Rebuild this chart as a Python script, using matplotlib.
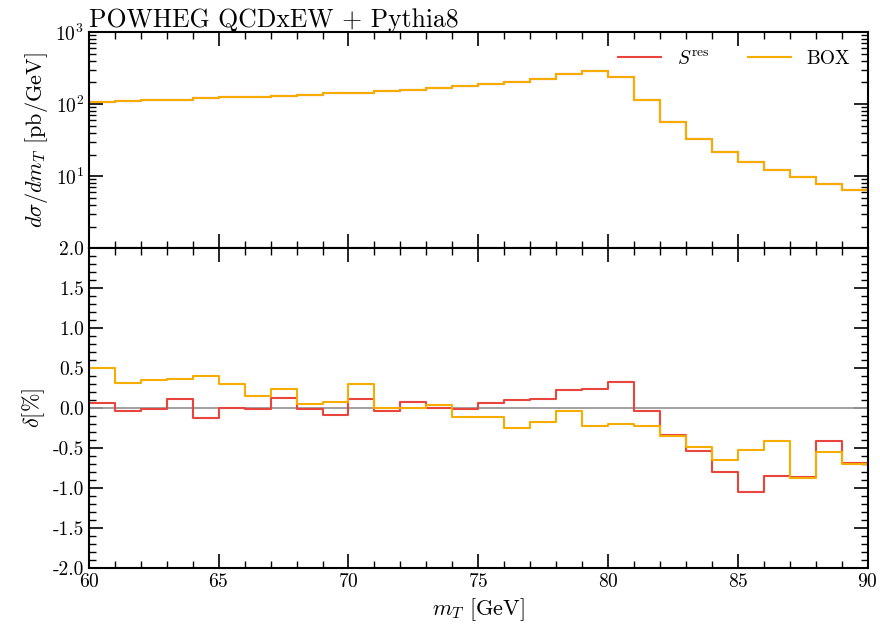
import numpy as np
import matplotlib
matplotlib.use('Agg')
import matplotlib.pyplot as plt
from matplotlib.ticker import MultipleLocator, LogLocator, NullFormatter

plt.rcParams['font.family'] = 'serif'
plt.rcParams['font.serif'] = ['cmr10', 'DejaVu Serif']
plt.rcParams['mathtext.fontset'] = 'cm'
plt.rcParams['axes.formatter.use_mathtext'] = True
plt.rcParams['axes.unicode_minus'] = True

# bin edges in m_T [GeV]
edges = [60, 61, 62, 63, 64, 65, 66, 67, 68, 69, 70, 71, 72, 73, 74, 75,
         76, 77, 78, 79, 80, 81, 82, 83, 84, 85, 86, 87, 88, 89, 90]

# d sigma / d m_T [pb/GeV]
dsig_res = [108, 111, 114, 116, 120, 124, 127, 131, 136, 141, 145, 151, 158, 165, 178,
            190, 204, 227, 263, 290, 235, 113, 56, 33, 21.8, 15.8, 12.1, 9.6, 7.7, 6.4]
dsig_box = [108, 111, 114, 116, 120, 124, 127, 131, 136, 141, 145, 151, 158, 165, 178,
            190, 204, 227, 263, 290, 235, 113, 56, 33, 21.8, 15.8, 12.1, 9.6, 7.7, 6.4]

# relative deviation delta [%]
delta_res = [0.07, -0.03, -0.01, 0.11, -0.12, 0.005, -0.01, 0.13, -0.01, -0.08, 0.11, -0.04,
             0.075, 0.0, -0.015, 0.06, 0.10, 0.11, 0.225, 0.24, 0.33, -0.04, -0.34, -0.53,
             -0.80, -1.05, -0.85, -0.86, -0.41, -0.69]
delta_box = [0.50, 0.32, 0.35, 0.36, 0.40, 0.30, 0.15, 0.24, 0.055, 0.075, 0.30, 0.0,
             0.0, 0.04, -0.11, -0.11, -0.25, -0.175, -0.04, -0.225, -0.20, -0.22, -0.35,
             -0.48, -0.65, -0.52, -0.41, -0.87, -0.55, -0.70]

c_res = '#e8453c'
c_box = '#f7ac00'

fig = plt.figure(figsize=(8.8, 6.3), dpi=100)
ax1 = fig.add_axes([0.101, 0.606, 0.885, 0.343])
ax2 = fig.add_axes([0.101, 0.098, 0.885, 0.508], sharex=ax1)


def steps(vals):
    return np.append(vals, vals[-1])


ax1.step(edges, steps(dsig_res), where='post', color=c_res, lw=1.5, label=r'$S^{\rm res}$')
ax1.step(edges, steps(dsig_box), where='post', color=c_box, lw=1.5, label='BOX')
ax1.set_yscale('log')
ax1.set_ylim(1, 1000)
ax1.set_yticks([10, 100, 1000])
ax1.yaxis.set_minor_locator(LogLocator(base=10, subs=np.arange(2, 10), numticks=20))
ax1.yaxis.set_minor_formatter(NullFormatter())
ax1.set_ylabel(r'$d\sigma/dm_T$ [pb/GeV]', fontsize=16)
ax1.legend(loc='upper right', ncol=2, frameon=False, fontsize=14, handlelength=2.2,
           columnspacing=2.0)
ax1.tick_params(labelbottom=False)
ax1.set_title('POWHEG QCDxEW + Pythia8', loc='left', fontsize=18.5, pad=4)

ax2.axhline(0, color='#999999', lw=1.3)
ax2.step(edges, steps(delta_res), where='post', color=c_res, lw=1.5)
ax2.step(edges, steps(delta_box), where='post', color=c_box, lw=1.5)
ax2.set_ylim(-2, 2)
ax2.yaxis.set_major_locator(MultipleLocator(0.5))
ax2.yaxis.set_minor_locator(MultipleLocator(0.1))
ax2.yaxis.set_major_formatter(matplotlib.ticker.FormatStrFormatter('%.1f'))
ax2.set_ylabel(r'$\delta$[%]', fontsize=16)
ax2.set_xlim(60, 90)
ax2.xaxis.set_major_locator(MultipleLocator(5))
ax2.xaxis.set_minor_locator(MultipleLocator(1))
ax2.set_xlabel(r'$m_T$ [GeV]', fontsize=16)

for ax in (ax1, ax2):
    ax.tick_params(which='both', direction='in', top=True, right=True, labelsize=14)
    ax.tick_params(which='major', length=10, width=1.2)
    ax.tick_params(which='minor', length=5, width=1.0)
    for s in ax.spines.values():
        s.set_linewidth(1.5)

fig.savefig('out.png', dpi=100)
